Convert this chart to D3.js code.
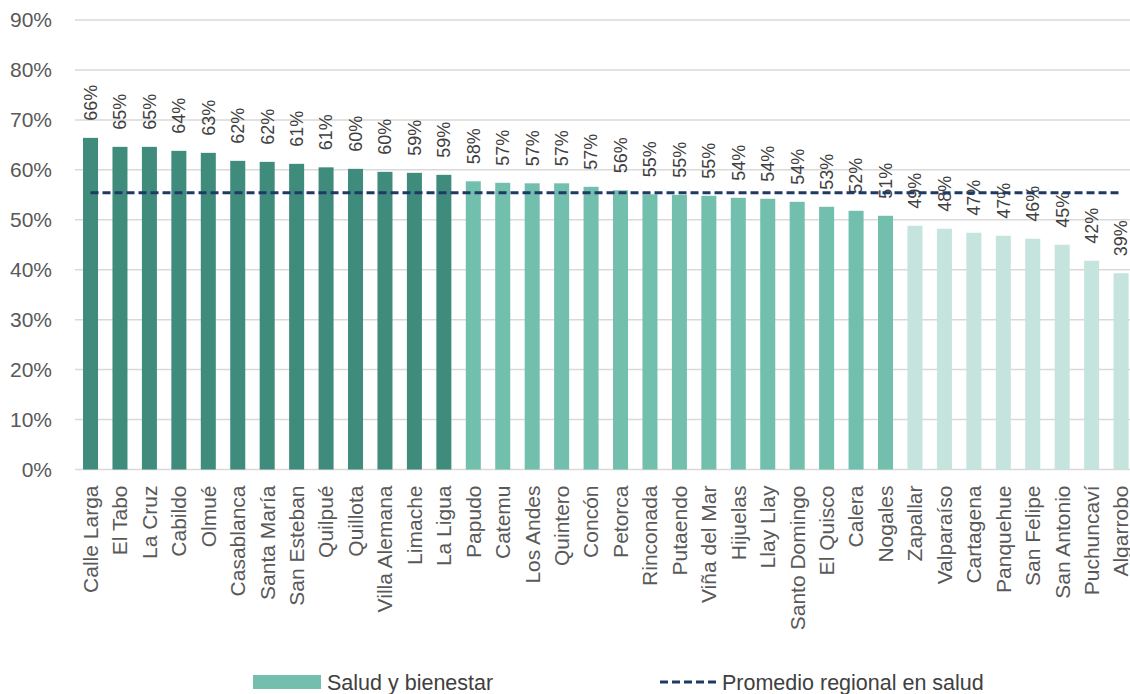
<!DOCTYPE html>
<html><head><meta charset="utf-8">
<script src="https://cdn.jsdelivr.net/npm/d3@7"></script>
<style>body{margin:0;background:#fff}svg{display:block}text{font-family:"Liberation Sans",Arial,sans-serif}</style>
</head><body><svg id="c" width="1130" height="694"></svg>
<script>
const categories = ["Calle Larga","El Tabo","La Cruz","Cabildo","Olmué","Casablanca","Santa María","San Esteban","Quilpué","Quillota","Villa Alemana","Limache","La Ligua","Papudo","Catemu","Los Andes","Quintero","Concón","Petorca","Rinconada","Putaendo","Viña del Mar","Hijuelas","Llay Llay","Santo Domingo","El Quisco","Calera","Nogales","Zapallar","Valparaíso","Cartagena","Panquehue","San Felipe","San Antonio","Puchuncaví","Algarrobo"];
const values = [0.664,0.646,0.646,0.638,0.634,0.618,0.616,0.612,0.605,0.602,0.596,0.594,0.590,0.577,0.574,0.573,0.573,0.566,0.559,0.551,0.550,0.548,0.544,0.542,0.536,0.526,0.518,0.508,0.488,0.482,0.474,0.468,0.462,0.450,0.418,0.393];
const tiers = [0,0,0,0,0,0,0,0,0,0,0,0,0,1,1,1,1,1,1,1,1,1,1,1,1,1,1,1,2,2,2,2,2,2,2,2];
const regionalAverage = 0.554;
const yTicks = [0,0.1,0.2,0.3,0.4,0.5,0.6,0.7,0.8,0.9];
const seriesName = "Salud y bienestar";
const averageName = "Promedio regional en salud";

const tierColors = ["#408c7c","#72bfae","#c4e4dd"];
const svg = d3.select("#c");
const y = d3.scaleLinear().domain([0,0.9]).range([469.5,20]);
const x = d3.scaleBand().domain(categories).range([75.8,1135.8]).paddingInner(0.49).paddingOuter(0.245);
const pct = d3.format(".0%");

// gridlines
svg.append("g").selectAll("line").data(yTicks).join("line")
  .attr("x1",75).attr("x2",1130).attr("y1",d=>y(d)).attr("y2",d=>y(d))
  .attr("stroke","#d9d9d9").attr("stroke-width",1.5);

// y axis labels
const yAxis = d3.axisLeft(y).tickValues(yTicks).tickFormat(pct).tickSize(0).tickPadding(0);
const ya = svg.append("g").attr("transform","translate(52,0)").call(yAxis);
ya.select(".domain").remove();
ya.selectAll("text").attr("font-size",21).attr("fill","#595959").attr("font-family","Liberation Sans, Arial, sans-serif");

// bars
svg.append("g").selectAll("rect").data(values).join("rect")
  .attr("x",(d,i)=>x(categories[i])).attr("width",x.bandwidth())
  .attr("y",d=>y(d)).attr("height",d=>y(0)-y(d))
  .attr("fill",(d,i)=>tierColors[tiers[i]]);

// value labels
svg.append("g").selectAll("text").data(values).join("text")
  .attr("transform",(d,i)=>`translate(${x(categories[i])+x.bandwidth()/2},${y(d)-17}) rotate(-90)`)
  .attr("dy","0.35em").attr("text-anchor","start")
  .attr("font-size",18).attr("fill","#404040").text(d=>pct(d));

// x axis
const xAxis = d3.axisBottom(x).tickSize(0).tickPadding(0);
const xa = svg.append("g").attr("transform",`translate(0,${y(0)})`).call(xAxis);
xa.select(".domain").remove();
xa.selectAll("text").attr("transform","translate(0,16) rotate(-90)").attr("dy","0.35em").attr("y",0).attr("x",0)
  .attr("text-anchor","end").attr("font-size",21).attr("fill","#595959").attr("font-family","Liberation Sans, Arial, sans-serif");

// average line
svg.append("line")
  .attr("x1",x(categories[0])+x.bandwidth()/2).attr("x2",x(categories[categories.length-1])+x.bandwidth()/2)
  .attr("y1",y(regionalAverage)).attr("y2",y(regionalAverage))
  .attr("stroke","#203864").attr("stroke-width",3).attr("stroke-dasharray","8,4");

// legend
const lg = svg.append("g");
lg.append("rect").attr("x",253).attr("y",675).attr("width",68).attr("height",14).attr("fill",tierColors[1]);
lg.append("text").attr("x",327).attr("y",682).attr("dy","0.35em").attr("font-size",21.5).attr("fill","#404040").text(seriesName);
lg.append("line").attr("x1",660).attr("x2",717).attr("y1",682).attr("y2",682)
  .attr("stroke","#203864").attr("stroke-width",3).attr("stroke-dasharray","8,4");
lg.append("text").attr("x",722).attr("y",682).attr("dy","0.35em").attr("font-size",21.5).attr("fill","#404040").text(averageName);
</script></body></html>
